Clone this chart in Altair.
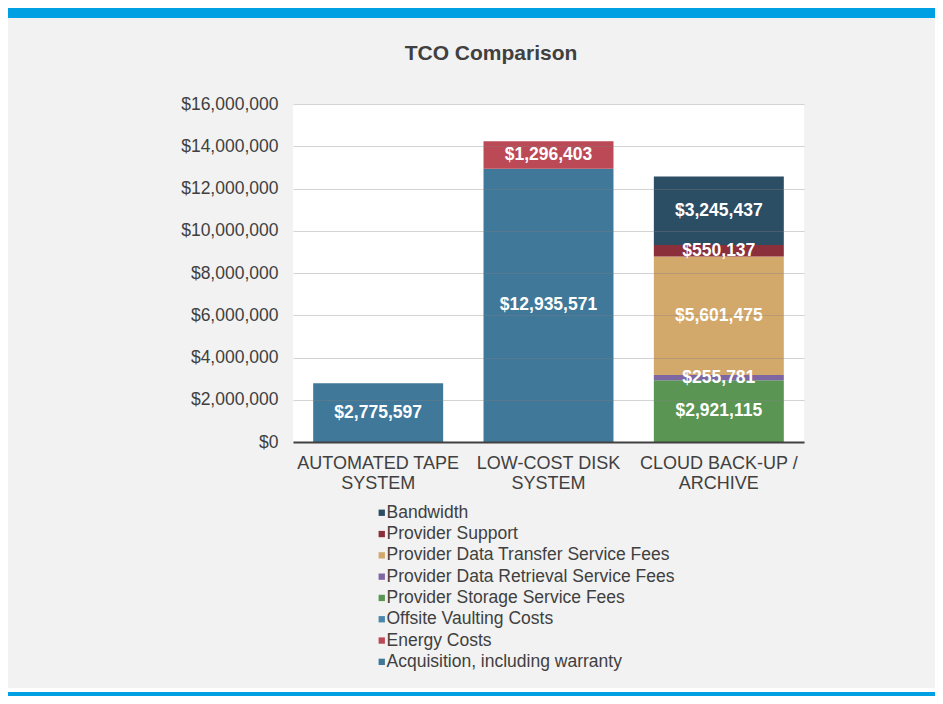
import altair as alt
import pandas as pd

# ---- data ----
categories = ["AUTOMATED TAPE|SYSTEM", "LOW-COST DISK|SYSTEM", "CLOUD BACK-UP /|ARCHIVE"]
series = [
    "Acquisition, including warranty",
    "Energy Costs",
    "Offsite Vaulting Costs",
    "Provider Storage Service Fees",
    "Provider Data Retrieval Service Fees",
    "Provider Data Transfer Service Fees",
    "Provider Support",
    "Bandwidth",
]
acquisition = [2775597, 12935571, 0]
energy = [0, 1296403, 0]
offsite = [0, 0, 0]
storage = [0, 0, 2921115]
retrieval = [0, 0, 255781]
transfer = [0, 0, 5601475]
support = [0, 0, 550137]
bandwidth = [0, 0, 3245437]
colors = ["#40789a", "#bb4a56", "#4a86ad", "#5b9553", "#7d66a2", "#d3a86b", "#8b2f3a", "#2c4e65"]
y_ticks = [0, 2000000, 4000000, 6000000, 8000000, 10000000, 12000000, 14000000, 16000000]

values_by_series = [acquisition, energy, offsite, storage, retrieval, transfer, support, bandwidth]

rows = []
for ci, cat in enumerate(categories):
    base = 0
    for si, s in enumerate(series):
        v = values_by_series[si][ci]
        if v > 0:
            rows.append({"cat": cat, "series": s, "value": v, "y0": base, "y1": base + v,
                         "mid": base + v / 2, "label": "${:,}".format(v)})
        base += v
df = pd.DataFrame(rows)

legend_order = list(reversed(series))
legend_colors = list(reversed(colors))

FONT = "Liberation Sans"
PL, PT, W, H = 285, 96, 511, 338
TOTAL_W, TOTAL_H = 927, 688

x_enc = alt.X("cat:N", sort=categories,
              scale=alt.Scale(paddingInner=0.237, paddingOuter=0.1185),
              axis=alt.Axis(title=None, labelAngle=0, labelExpr="split(datum.label, '|')",
                            ticks=False, domain=True, domainColor="#404040", domainWidth=2,
                            labelFontSize=18, labelLineHeight=20, labelPadding=12,
                            labelColor="#404040", labelFont=FONT, grid=False, zindex=1))
y_scale = alt.Scale(domain=[0, 16000000], nice=False)

bars = alt.Chart(df).mark_bar(strokeWidth=0).encode(
    x=x_enc,
    y=alt.Y("y0:Q", scale=y_scale,
            axis=alt.Axis(title=None, values=y_ticks, format="$,.0f", ticks=False, domain=False,
                          labelFontSize=17.5, labelColor="#404040", labelFont=FONT, labelPadding=15,
                          grid=True, gridColor="#808080", gridOpacity=0.35, zindex=1)),
    y2="y1:Q",
    color=alt.Color("series:N",
                    scale=alt.Scale(domain=legend_order, range=legend_colors),
                    legend=alt.Legend(title=None, orient="none", legendX=80, legendY=400,
                                      direction="vertical", symbolType="square", symbolSize=40,
                                      symbolStrokeWidth=0, labelFontSize=17.5, labelColor="#404040",
                                      labelFont=FONT, labelOffset={"expr": "-4"}, rowPadding=2.3,
                                      padding=0, labelLimit=400)),
)

labels = alt.Chart(df).mark_text(color="white", fontWeight="bold", fontSize=17.5, font=FONT,
                                 baseline="middle").encode(
    x=alt.X("cat:N", sort=categories),
    y=alt.Y("mid:Q", scale=y_scale),
    text="label:N",
)

one = pd.DataFrame({"d": [0]})
top_strip = alt.Chart(one).mark_rect(color="#00a0e2").encode(
    x=alt.value(-PL), x2=alt.value(TOTAL_W - PL), y=alt.value(-PT), y2=alt.value(-PT + 10))
bottom_gap = alt.Chart(one).mark_rect(color="white").encode(
    x=alt.value(-PL), x2=alt.value(TOTAL_W - PL), y=alt.value(TOTAL_H - PT - 8), y2=alt.value(TOTAL_H - PT - 4))
bottom_strip = alt.Chart(one).mark_rect(color="#00a0e2").encode(
    x=alt.value(-PL), x2=alt.value(TOTAL_W - PL), y=alt.value(TOTAL_H - PT - 4), y2=alt.value(TOTAL_H - PT))
title = alt.Chart(one).mark_text(text="TCO Comparison", fontSize=21, fontWeight="bold", font=FONT,
                                 color="#404040", baseline="middle", align="center").encode(
    x=alt.value(198), y=alt.value(-50))

chart = alt.layer(bars, labels, top_strip, bottom_gap, bottom_strip, title).properties(
    width=W, height=H,
    autosize=alt.AutoSizeParams(type="none"),
    padding={"left": PL, "top": PT, "right": TOTAL_W - PL - W, "bottom": TOTAL_H - PT - H},
    background="#f2f2f2",
).configure_view(fill="white", strokeWidth=0)

chart.save("out.html", embed_options={"renderer": "svg", "actions": False})
